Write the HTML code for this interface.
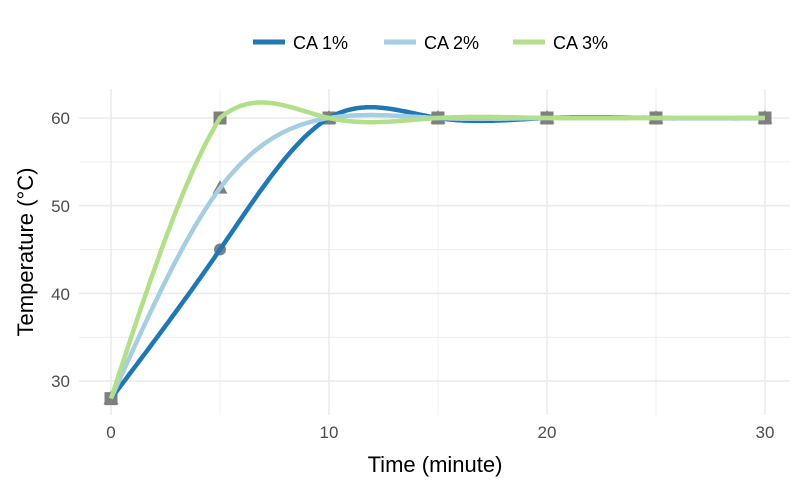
<!DOCTYPE html>
<html><head><meta charset="utf-8"><style>body{margin:0;background:#fff}svg{display:block}</style></head>
<body>
<svg id="s" width="807" height="490" xmlns="http://www.w3.org/2000/svg" font-family="Liberation Sans, sans-serif">
<rect width="807" height="490" fill="#fff"/>
<g stroke="#ebebeb" stroke-width="0.8">
<line x1="79" x2="790" y1="161.9" y2="161.9"/><line x1="79" x2="790" y1="249.6" y2="249.6"/><line x1="79" x2="790" y1="337.3" y2="337.3"/>
<line y1="89" y2="415" x1="220" x2="220"/><line y1="89" y2="415" x1="438" x2="438"/><line y1="89" y2="415" x1="656" x2="656"/>
</g>
<g stroke="#ebebeb" stroke-width="1.6">
<line x1="79" x2="790" y1="118" y2="118"/><line x1="79" x2="790" y1="205.7" y2="205.7"/><line x1="79" x2="790" y1="293.4" y2="293.4"/><line x1="79" x2="790" y1="381.1" y2="381.1"/>
<line y1="89" y2="415" x1="111" x2="111"/><line y1="89" y2="415" x1="329" x2="329"/><line y1="89" y2="415" x1="547" x2="547"/><line y1="89" y2="415" x1="765" x2="765"/>
</g>
<g fill="#4d4d4d" font-size="17" text-anchor="end">
<text x="70" y="124">60</text><text x="70" y="212">50</text><text x="70" y="300">40</text><text x="70" y="387">30</text>
</g>
<g fill="#4d4d4d" font-size="17" text-anchor="middle">
<text x="111" y="438">0</text><text x="329" y="438">10</text><text x="547" y="438">20</text><text x="765" y="438">30</text>
</g>
<text x="435" y="472" font-size="22" text-anchor="middle" fill="#000">Time (minute)</text>
<text transform="translate(33,252) rotate(-90)" font-size="22" text-anchor="middle" fill="#000">Temperature (°C)</text>
<g id="mk" fill="#7f7f7f"></g>
<g id="ln" fill="none" stroke-width="4.5" stroke-linejoin="round"></g>
<g font-size="18" fill="#000">
<line x1="253" x2="285" y1="42" y2="42" stroke="#1f78b4" stroke-width="5"/><text x="293" y="49">CA 1%</text>
<line x1="384" x2="416" y1="42" y2="42" stroke="#a6cee3" stroke-width="5"/><text x="424" y="49">CA 2%</text>
<line x1="513" x2="545" y1="42" y2="42" stroke="#b2df8a" stroke-width="5"/><text x="553" y="49">CA 3%</text>
</g>
</svg>
<script>
const X=x=>111+21.8*x, Y=t=>118+(60-t)*8.77;
const xs=[0,5,10,15,20,25,30];
const data=[[28,45,60,60,60,60,60,"#1f78b4",1],[28,52,60,60,60,60,60,"#a6cee3",1],[28,60,60,60,60,60,60,"#b2df8a",0.7]];
function spline(y){const n=y.length,h=5;const a=new Array(n).fill(0),b=new Array(n).fill(0),c=new Array(n).fill(0),d=new Array(n).fill(0);
b[0]=1;b[n-1]=1;for(let i=1;i<n-1;i++){a[i]=h;b[i]=4*h;c[i]=h;d[i]=6*(y[i+1]-2*y[i]+y[i-1])/h;}
for(let i=1;i<n;i++){const m=a[i]/b[i-1];b[i]-=m*c[i-1];d[i]-=m*d[i-1];}
const M=new Array(n);M[n-1]=d[n-1]/b[n-1];for(let i=n-2;i>=0;i--)M[i]=(d[i]-c[i]*M[i+1])/b[i];
return t=>{let i=Math.min(Math.floor(t/h),n-2);const A=(xs[i+1]-t)/h,B=(t-xs[i])/h;
return [A*y[i]+B*y[i+1],((A*A*A-A)*M[i]+(B*B*B-B)*M[i+1])*h*h/6];};}
const ns="http://www.w3.org/2000/svg",mk=document.getElementById("mk"),ln=document.getElementById("ln");
data.forEach((r,k)=>{xs.forEach((x,i)=>{const px=X(x),py=Y(r[i]);let e;
if(k==0){e=document.createElementNS(ns,"circle");e.setAttribute("cx",px);e.setAttribute("cy",py);e.setAttribute("r",6);}
else if(k==1){e=document.createElementNS(ns,"polygon");e.setAttribute("points",`${px},${py-8} ${px-7.5},${py+5.5} ${px+7.5},${py+5.5}`);}
else{e=document.createElementNS(ns,"rect");e.setAttribute("x",px-6.5);e.setAttribute("y",py-6.5);e.setAttribute("width",13);e.setAttribute("height",13);}
mk.appendChild(e);});});
data.forEach(r=>{const f=spline(r.slice(0,7));let p="";for(let t=0;t<=30.001;t+=0.1){const v=f(t);p+=(p?"L":"M")+X(t).toFixed(1)+","+Y(v[0]+r[8]*v[1]).toFixed(1);}
const e=document.createElementNS(ns,"path");e.setAttribute("d",p);e.setAttribute("stroke",r[7]);ln.appendChild(e);});
</script>
</body></html>
